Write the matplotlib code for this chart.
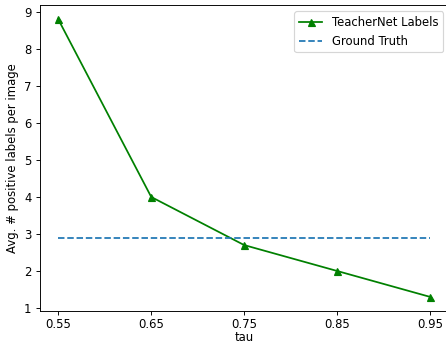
import numpy as np
import matplotlib
matplotlib.use('Agg')
import matplotlib.pyplot as plt

# data
tau = [0.55, 0.65, 0.75, 0.85, 0.95]
teacher_labels = [8.8, 4.0, 2.7, 2.0, 1.3]
ground_truth = [2.9, 2.9, 2.9, 2.9, 2.9]

dpi = 84
fig = plt.figure(figsize=(446 / dpi, 343 / dpi), dpi=dpi)
ax = fig.add_axes([0.089, 0.094, 0.917, 0.890])
ax.plot(tau, teacher_labels, color='green', marker='^', label="TeacherNet Labels")
ax.plot(tau, ground_truth, '--', color='C0', label="Ground Truth")
ax.set_xticks(tau)
ax.tick_params(axis='x', pad=3)
ax.set_xlabel("tau", labelpad=-0.5)
ax.set_ylabel("Avg. # positive labels per image")
ax.legend(loc='upper right')
fig.savefig('out.png', dpi=dpi)
